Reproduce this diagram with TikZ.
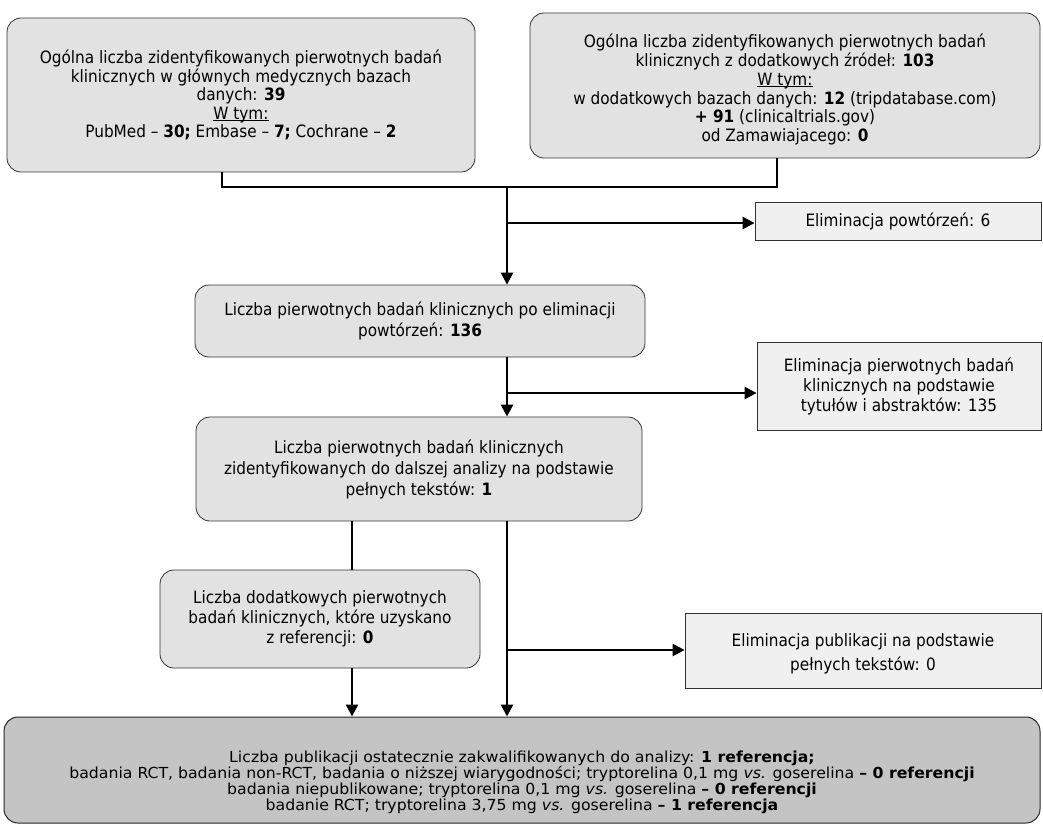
\documentclass[tikz,border=0pt]{standalone}
\usepackage{fontspec}
\setmainfont{DejaVu Sans Condensed}
\newfontfamily\finfont[FakeStretch=1.15]{DejaVu Sans Condensed}
\usetikzlibrary{arrows.meta}
\definecolor{boxgray}{HTML}{E2E2E2}
\definecolor{fingray}{HTML}{C4C4C4}
\definecolor{elimgray}{HTML}{F0F0F0}
\newcommand{\uline}[1]{\setbox0\hbox{#1}\leavevmode\rlap{\rule[-2pt]{\wd0}{0.9pt}}\box0}
\newcommand{\topstrut}[1]{\rule{0pt}{#1}}
\newcommand{\tightlines}{\lineskiplimit=-100pt\relax\lineskip=0pt\relax}
\begin{document}
\begin{tikzpicture}[x=1pt,y=-1pt,
  every node/.style={font=\fontsize{17}{18.4}\selectfont, align=center, inner sep=0pt},
  rbox/.style={draw=black!80, line width=0.8pt, rounded corners=14pt, fill=boxgray},
  ebox/.style={draw=black!80, line width=0.8pt, fill=elimgray},
  fbox/.style={draw=black!85, line width=1pt, rounded corners=14pt, fill=fingray,
    font={\finfont\fontsize{15.2}{16}\selectfont\tightlines}},
  conn/.style={line width=2.6pt, draw=black},
  arr/.style={conn, -{Triangle[length=12pt,width=12pt]}}]
\useasboundingbox (0,0) rectangle (1043,829);

\node[rbox, minimum width=468pt, minimum height=154pt] (b1) at (241,95)
 {Ogólna liczba zidentyfikowanych pierwotnych badań\\
  klinicznych w głównych medycznych bazach\\
  danych: \textbf{39}\\
  \uline{W tym:}\\
  PubMed – \textbf{30;} Embase – \textbf{7;} Cochrane – \textbf{2}};

\node[rbox, minimum width=510pt, minimum height=145pt, font=\fontsize{17}{18.8}\selectfont] (b2) at (785,85.5)
 {\topstrut{22pt}Ogólna liczba zidentyfikowanych pierwotnych badań\\
  klinicznych z dodatkowych źródeł: \textbf{103}\\
  \uline{W tym:}\\
  w dodatkowych bazach danych: \textbf{12} (tripdatabase.com)\\
  \textbf{+ 91} (clinicaltrials.gov)\\
  od Zamawiajacego: \textbf{0}};

\node[rbox, minimum width=450pt, minimum height=72pt, font=\fontsize{17}{21}\selectfont] (b3) at (420,321)
 {Liczba pierwotnych badań klinicznych po eliminacji\\
  powtórzeń: \textbf{136}};

\node[rbox, minimum width=446pt, minimum height=104pt, font=\fontsize{17}{21}\selectfont] (b4) at (419,469)
 {Liczba pierwotnych badań klinicznych\\
  zidentyfikowanych do dalszej analizy na podstawie\\
  pełnych tekstów: \textbf{1}};

\node[rbox, minimum width=320pt, minimum height=98pt, font=\fontsize{17}{20}\selectfont] (b5) at (320,619)
 {Liczba dodatkowych pierwotnych\\
  badań klinicznych, które uzyskano\\
  z referencji: \textbf{0}};

\node[ebox, minimum width=286pt, minimum height=38pt] (e1) at (898,221)
 {Eliminacja powtórzeń: 6};

\node[ebox, minimum width=284pt, minimum height=88pt, font=\fontsize{17}{20}\selectfont] (e2) at (899,386)
 {Eliminacja pierwotnych badań\\
  klinicznych na podstawie\\
  tytułów i abstraktów: 135};

\node[ebox, minimum width=356pt, minimum height=75pt, font=\fontsize{17}{24}\selectfont] (e3) at (863,650.5)
 {\topstrut{20pt}Eliminacja publikacji na podstawie\\
  pełnych tekstów: 0};

\node[fbox, minimum width=1036pt, minimum height=106pt] (fin) at (522,770)
 {\topstrut{37pt}Liczba publikacji ostatecznie zakwalifikowanych do analizy: \textbf{1 referencja;}\\
  badania RCT, badania non-RCT, badania o niższej wiarygodności; tryptorelina 0,1 mg \textit{vs.} goserelina \textbf{– 0 referencji}\\
  badania niepublikowane; tryptorelina 0,1 mg \textit{vs.} goserelina \textbf{– 0 referencji}\\
  badanie RCT; tryptorelina 3,75 mg \textit{vs.} goserelina \textbf{– 1 referencja}};

\coordinate (m) at (507,187);
\coordinate (cx) at (352,0);
\coordinate (s1) at (507,223);
\coordinate (s2) at (507,393);
\coordinate (s3) at (507,650);

\draw[conn] ([xshift=-19pt]b1.south) |- (m) -| ([xshift=-8pt]b2.south);
\draw[arr] (m) -- (m |- b3.north);
\draw[arr] (s1) -- (s1 -| e1.west);
\draw[arr] (b3.south -| m) -- (b4.north -| m);
\draw[arr] (s2) -- (s2 -| e2.west);
\draw[conn] (b4.south -| cx) -- (b5.north -| cx);
\draw[arr] (b4.south -| m) -- (fin.north -| m);
\draw[arr] (s3) -- (s3 -| e3.west);
\draw[arr] (b5.south -| cx) -- (fin.north -| cx);
\end{tikzpicture}
\end{document}
